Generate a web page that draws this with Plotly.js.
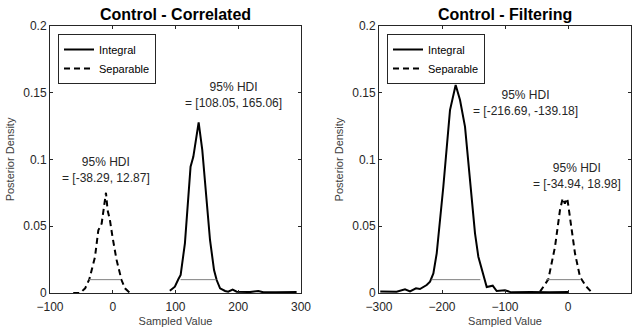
<!DOCTYPE html>
<html><head><meta charset="utf-8">
<script src="https://cdn.plot.ly/plotly-3.0.1.min.js"></script>
<style>html,body{margin:0;padding:0;background:#fff}#chart{width:639px;height:330px}</style>
</head><body><div id="chart"></div>
<script>
// Panel titles
const panelTitles = ["Control - Correlated", "Control - Filtering"];
const seriesNames = ["Integral", "Separable"];

// Left panel: Control - Correlated
const intLeftX = [91, 99, 104.5, 108.2, 115, 124, 128.4, 136.9, 142.7, 149.7, 155, 161.4, 165.6, 171, 179, 184, 191, 197.5, 208, 218.7, 232, 240, 260, 280, 293];
const intLeftY = [0.0017, 0.0047, 0.0103, 0.0135, 0.0372, 0.0946, 0.102, 0.1278, 0.107, 0.0697, 0.0397, 0.0172, 0.0097, 0.0035, 0.0015, 0.001, 0.0025, 0.001, 0.0007, 0.0007, 0.0015, 0.0005, 0.0006, 0.0005, 0.0007];
const sepLeftX = [-63, -52, -44, -37.3, -28.3, -23, -17.7, -14, -10.8, -8.2, -4.6, -0.4, 6, 14, 19.5, 27.5, 32];
const sepLeftY = [0, 0, 0.0035, 0.0103, 0.027, 0.047, 0.052, 0.0647, 0.0751, 0.062, 0.055, 0.042, 0.025, 0.0097, 0.0035, 0, 0.0005];
const hdiLeftInt = [108.05, 165.06];
const hdiLeftSep = [-38.29, 12.87];

// Right panel: Control - Filtering
const intRightX = [-298, -272, -258.7, -250.8, -241.3, -235, -224.3, -219, -213.7, -208.4, -197.9, -187.3, -178.3, -171.4, -163.5, -155.6, -147.6, -142.3, -134.4, -129, -119.5, -113.2, -100, -90, -60, -30, 0];
const intRightY = [0.0012, 0.001, 0.0027, 0.0012, 0.0035, 0.003, 0.006, 0.0085, 0.0147, 0.0297, 0.0796, 0.137, 0.1558, 0.1446, 0.1246, 0.0822, 0.0447, 0.0272, 0.0147, 0.0045, 0.0055, 0.0015, 0.002, 0.0005, 0.0008, 0.0005, 0.0008];
const sepRightX = [-44.4, -36.5, -31.2, -20.6, -12.7, -8.4, -5, -1.1, 3.2, 11.1, 19, 28.6, 37.6];
const sepRightY = [0.001, 0.0072, 0.0103, 0.0347, 0.0622, 0.0709, 0.067, 0.0709, 0.057, 0.0297, 0.0122, 0.005, 0.0005];
const hdiRightInt = [-216.69, -139.18];
const hdiRightSep = [-34.94, 18.98];

const hdiLevel = 0.01;
const hdiTexts = [
  "95% HDI<br>= [" + hdiLeftSep[0].toFixed(2) + ", " + hdiLeftSep[1].toFixed(2) + "]",
  "95% HDI<br>= [" + hdiLeftInt[0].toFixed(2) + ", " + hdiLeftInt[1].toFixed(2) + "]",
  "95% HDI<br>= [" + hdiRightInt[0].toFixed(2) + ", " + hdiRightInt[1].toFixed(2) + "]",
  "95% HDI<br>= [" + hdiRightSep[0].toFixed(2) + ", " + hdiRightSep[1].toFixed(2) + "]"
];

const xTicksLeft = [-100, 0, 100, 200, 300];
const xTicksRight = [-300, -200, -100, 0, 100];
const yTicks = [0, 0.05, 0.1, 0.15, 0.2];

const FONT = "Liberation Sans, Arial, sans-serif";
const DARK = "#262626";

function curve(x, y, name, dash, xa, ya, legend) {
  return {x: x, y: y, type: "scatter", mode: "lines", name: name,
    line: {color: "#000", width: 2, dash: dash}, xaxis: xa, yaxis: ya, legend: legend};
}
function hdi(r, xa, ya) {
  return {x: r, y: [hdiLevel, hdiLevel], type: "scatter", mode: "lines", showlegend: false,
    line: {color: "#808080", width: 1}, xaxis: xa, yaxis: ya, hoverinfo: "skip"};
}

const DASH = "6px,4px";
const traces = [
  curve(intLeftX, intLeftY, seriesNames[0], "solid", "x", "y", "legend"),
  curve(sepLeftX, sepLeftY, seriesNames[1], DASH, "x", "y", "legend"),
  hdi(hdiLeftInt, "x", "y"),
  hdi(hdiLeftSep, "x", "y"),
  curve(intRightX, intRightY, seriesNames[0], "solid", "x2", "y2", "legend2"),
  curve(sepRightX, sepRightY, seriesNames[1], DASH, "x2", "y2", "legend2"),
  hdi(hdiRightInt, "x2", "y2"),
  hdi(hdiRightSep, "x2", "y2")
];

const yDom = [1 - 293/330, 1 - 26/330];
const xDomL = [50/639, 301/639];
const xDomR = [379/639, 631/639];

function xaxis(dom, range, ticks, anchor) {
  return {domain: dom, range: range, tickvals: ticks, anchor: anchor,
    showline: true, linecolor: DARK, linewidth: 1, mirror: "ticks",
    ticks: "inside", ticklen: 3, tickcolor: DARK, showgrid: false, zeroline: false,
    ticklabelstandoff: 3,
    tickfont: {family: FONT, size: 12, color: DARK},
    title: {text: "Sampled Value", font: {family: FONT, size: 11, color: "#404040"}, standoff: 3}};
}
function yaxis(range, anchor) {
  return {domain: yDom, range: range, tickvals: yTicks, ticktext: yTicks.map(String), anchor: anchor,
    showline: true, linecolor: DARK, linewidth: 1, mirror: "ticks",
    ticks: "inside", ticklen: 3, tickcolor: DARK, showgrid: false, zeroline: false,
    tickfont: {family: FONT, size: 12, color: DARK},
    title: {text: "Posterior Density", font: {family: FONT, size: 11, color: "#404040"}, standoff: 6}};
}

const legendStyle = (x) => ({x: x, y: 1 - 34/330, xanchor: "left", yanchor: "top",
  bordercolor: DARK, borderwidth: 1, bgcolor: "#fff",
  font: {family: FONT, size: 11, color: "#000"}, tracegroupgap: 0, itemwidth: 30});

const layout = {
  width: 639, height: 330, margin: {l: 0, r: 0, t: 0, b: 0},
  paper_bgcolor: "#fff", plot_bgcolor: "#fff",
  font: {family: FONT, color: DARK},
  xaxis: xaxis(xDomL, [-100, 300], xTicksLeft, "y"),
  yaxis: yaxis([0, 0.2], "x"),
  xaxis2: xaxis(xDomR, [-300, 100], xTicksRight, "y2"),
  yaxis2: yaxis([0, 0.2], "x2"),
  legend: legendStyle(58/639),
  legend2: legendStyle(387/639),
  annotations: [
    {text: "<b>" + panelTitles[0] + "</b>", xref: "paper", yref: "paper", x: (xDomL[0]+xDomL[1])/2, y: 1 - 14/330,
      xanchor: "center", yanchor: "middle", showarrow: false, font: {family: FONT, size: 16, color: "#000"}},
    {text: "<b>" + panelTitles[1] + "</b>", xref: "paper", yref: "paper", x: (xDomR[0]+xDomR[1])/2, y: 1 - 14/330,
      xanchor: "center", yanchor: "middle", showarrow: false, font: {family: FONT, size: 16, color: "#000"}},
    {text: hdiTexts[0], xref: "x", yref: "y", x: -10.8, y: 0.092, xanchor: "center", yanchor: "middle", showarrow: false, font: {family: FONT, size: 12, color: DARK}},
    {text: hdiTexts[1], xref: "x", yref: "y", x: 193, y: 0.148, xanchor: "center", yanchor: "middle", showarrow: false, font: {family: FONT, size: 12, color: DARK}},
    {text: hdiTexts[2], xref: "x2", yref: "y2", x: -68, y: 0.1425, xanchor: "center", yanchor: "middle", showarrow: false, font: {family: FONT, size: 12, color: DARK}},
    {text: hdiTexts[3], xref: "x2", yref: "y2", x: 14, y: 0.088, xanchor: "center", yanchor: "middle", showarrow: false, font: {family: FONT, size: 12, color: DARK}}
  ]
};

Plotly.newPlot("chart", traces, layout, {displayModeBar: false, staticPlot: true});
</script></body></html>
